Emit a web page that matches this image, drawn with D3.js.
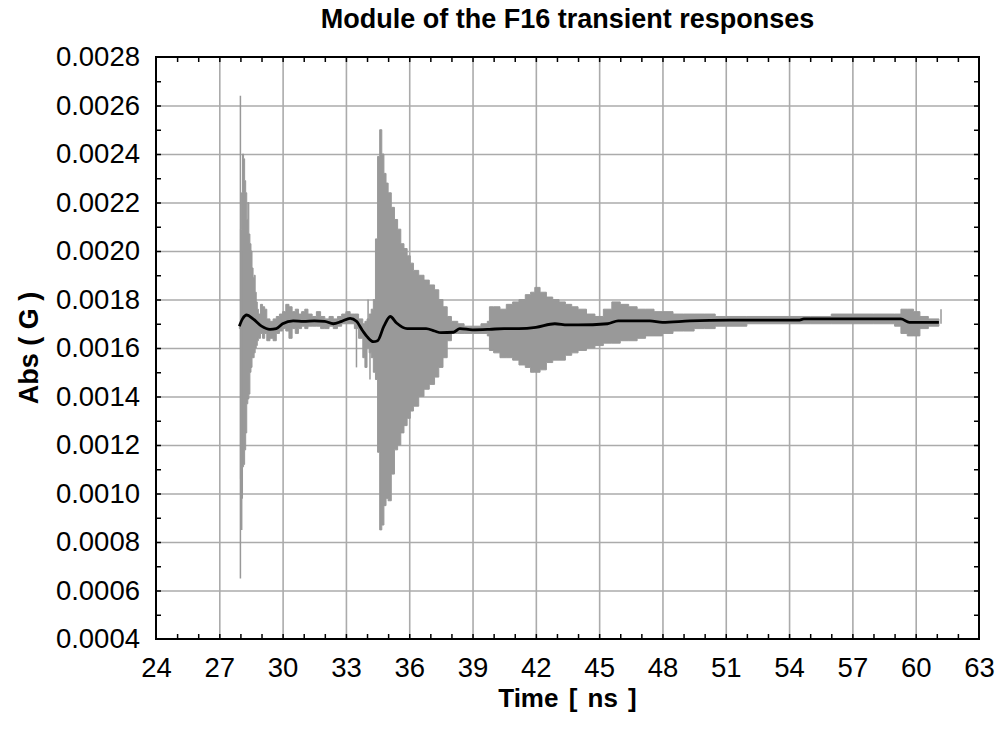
<!DOCTYPE html>
<html>
<head>
<meta charset="utf-8">
<script src="https://cdn.jsdelivr.net/npm/d3@7"></script>
<style>
  body { margin: 0; background: #fff; }
  svg { font-family: "Liberation Sans", Arial, sans-serif; }
  .tickLabel { font-size: 27.5px; fill: #000; }
</style>
</head>
<body>
<div id="chart"></div>
<script>
// x ticks (ns) and y ticks (G)
var xTicks = [24, 27, 30, 33, 36, 39, 42, 45, 48, 51, 54, 57, 60, 63];
var yTicks = [0.0004, 0.0006, 0.0008, 0.0010, 0.0012, 0.0014, 0.0016, 0.0018, 0.0020, 0.0022, 0.0024, 0.0026, 0.0028];

// envelope of the raw transient response (grey)
var sigTime = [27.95, 28.00, 28.05, 28.10, 28.15, 28.20, 28.25, 28.30, 28.35, 28.40, 28.45, 28.50, 28.55, 28.60, 28.65, 28.70, 28.75, 28.80, 28.85,
  28.95, 29.05, 29.15, 29.25, 29.40, 29.55, 29.70, 29.85, 30.00, 30.15, 30.30, 30.45, 30.60, 30.75, 30.90, 31.05, 31.20, 31.40, 31.60, 31.80,
  32.00, 32.20, 32.40, 32.60, 32.80, 33.00, 33.20, 33.40, 33.60, 33.80, 33.90, 34.00, 34.10, 34.20, 34.30, 34.40, 34.50, 34.60, 34.70, 34.80,
  34.90, 35.00, 35.15, 35.30, 35.45, 35.60, 35.75, 35.90, 36.05, 36.20, 36.45, 36.70, 36.95, 37.20, 37.40, 37.60, 37.80, 38.00, 38.30, 38.60,
  39.00, 39.40, 39.70, 39.80, 40.00, 40.30, 40.60, 40.90, 41.20, 41.50, 41.75, 41.95, 42.20, 42.50, 42.80, 43.10, 43.40, 43.70, 44.00, 44.40,
  44.80, 45.20, 45.60, 46.00, 46.40, 46.80, 47.20, 47.60, 48.00, 48.50, 49.00, 49.50, 50.00, 50.50, 51.00, 52.00, 53.00, 54.00, 55.00, 56.00,
  57.00, 58.00, 59.00, 59.30, 59.60, 59.90, 60.20, 60.60, 61.10];
var sigHigh = [0.00170, 0.00209, 0.00224, 0.00240, 0.00238, 0.00229, 0.00224, 0.00213, 0.00220, 0.00207, 0.00203, 0.00200, 0.00193, 0.00189, 0.00190, 0.00183, 0.00179, 0.00176, 0.00174,
  0.00178, 0.00177, 0.00176, 0.00172, 0.00171, 0.00172, 0.00173, 0.00174, 0.00175, 0.00178, 0.00177, 0.00175, 0.00176, 0.00174, 0.00175, 0.00176, 0.00174, 0.00173, 0.00175, 0.00173,
  0.00172, 0.00173, 0.00172, 0.00173, 0.00174, 0.00175, 0.00174, 0.00174, 0.00172, 0.00170, 0.00171, 0.00172, 0.00174, 0.00176, 0.00180, 0.00205, 0.00239, 0.00250, 0.00240, 0.00232,
  0.00228, 0.00224, 0.00218, 0.00213, 0.00209, 0.00203, 0.00201, 0.00198, 0.00195, 0.00192, 0.00190, 0.00188, 0.00186, 0.00184, 0.00180, 0.00177, 0.00173, 0.00171, 0.00170, 0.00169,
  0.00169, 0.00170, 0.00171, 0.00177, 0.00177, 0.00176, 0.00178, 0.00179, 0.00180, 0.00182, 0.00183, 0.00185, 0.00183, 0.00181, 0.00180, 0.00179, 0.00178, 0.00177, 0.00176, 0.00174,
  0.00173, 0.00176, 0.00179, 0.00178, 0.00177, 0.00176, 0.00176, 0.00175, 0.00175, 0.00174, 0.00174, 0.00174, 0.00174, 0.00173, 0.00173, 0.00173, 0.00173, 0.00173, 0.00173, 0.00174,
  0.00174, 0.00174, 0.00174, 0.00176, 0.00176, 0.00175, 0.00173, 0.00172, 0.00172];
var sigLow = [0.00168, 0.00106, 0.00098, 0.00111, 0.00112, 0.00118, 0.00125, 0.00137, 0.00139, 0.00141, 0.00150, 0.00152, 0.00156, 0.00156, 0.00158, 0.00160, 0.00161, 0.00163, 0.00164,
  0.00166, 0.00164, 0.00166, 0.00163, 0.00164, 0.00163, 0.00166, 0.00167, 0.00168, 0.00167, 0.00164, 0.00168, 0.00166, 0.00168, 0.00169, 0.00168, 0.00169, 0.00169, 0.00169, 0.00168,
  0.00168, 0.00169, 0.00168, 0.00169, 0.00170, 0.00170, 0.00170, 0.00168, 0.00164, 0.00156, 0.00152, 0.00160, 0.00158, 0.00156, 0.00150, 0.00147, 0.00117, 0.00085, 0.00087, 0.00095,
  0.00098, 0.00097, 0.00108, 0.00118, 0.00120, 0.00125, 0.00128, 0.00131, 0.00134, 0.00136, 0.00140, 0.00143, 0.00145, 0.00148, 0.00152, 0.00156, 0.00163, 0.00166, 0.00166, 0.00166,
  0.00166, 0.00166, 0.00165, 0.00159, 0.00158, 0.00156, 0.00156, 0.00155, 0.00153, 0.00152, 0.00150, 0.00150, 0.00151, 0.00154, 0.00155, 0.00155, 0.00157, 0.00158, 0.00159, 0.00160,
  0.00161, 0.00162, 0.00162, 0.00163, 0.00163, 0.00164, 0.00165, 0.00165, 0.00166, 0.00167, 0.00167, 0.00168, 0.00168, 0.00169, 0.00169, 0.00170, 0.00170, 0.00170, 0.00170, 0.00170,
  0.00170, 0.00170, 0.00169, 0.00166, 0.00165, 0.00165, 0.00168, 0.00169, 0.00169];

// isolated thin spikes of the raw signal: time, low, high
var spikeTime = [28.00, 28.06, 33.50, 34.05, 34.14, 61.20];
var spikeLow = [0.00065, 0.00085, 0.00152, 0.00165, 0.00147, 0.00170];
var spikeHigh = [0.00264, 0.00200, 0.00172, 0.00180, 0.00170, 0.00176];

// averaged response (black)
var meanTime = [27.95, 28.1, 28.3, 28.6, 29.0, 29.4, 29.7, 30.0, 30.5, 31.0, 31.5, 32.0, 32.4, 32.8, 33.2, 33.5, 33.8, 34.0, 34.3, 34.5,
  34.8, 35.1, 35.4, 35.9, 36.4, 36.8, 37.2, 37.5, 38.1, 38.4, 39.0, 39.8, 40.5, 41.2, 42.0, 42.9, 43.5, 44.0, 45.4, 45.9,
  46.8, 47.4, 48.0, 49.3, 51.2, 54.5, 54.7, 58.0, 59.3, 59.7, 61.1];
var meanValue = [0.00169, 0.00172, 0.001736, 0.00172, 0.00169, 0.001677, 0.00168, 0.00170, 0.001712, 0.00171, 0.001712, 0.00171, 0.00170, 0.00171, 0.001722, 0.00171, 0.00167, 0.001647, 0.001626, 0.00163,
  0.00169, 0.00173, 0.001703, 0.00168, 0.00168, 0.00168, 0.00167, 0.001663, 0.001665, 0.00168, 0.001675, 0.001677, 0.00168, 0.00168, 0.001685, 0.00170, 0.001695, 0.001695, 0.00170, 0.001712,
  0.001712, 0.001712, 0.001706, 0.001712, 0.001715, 0.001715, 0.00172, 0.00172, 0.00172, 0.001706, 0.001706];

var svgWidth = 1003, svgHeight = 737;
var margin = { top: 57, right: 24, bottom: 98, left: 156 };
var chartWidth = svgWidth - margin.left - margin.right;
var chartHeight = svgHeight - margin.top - margin.bottom;

var svg = d3.select("#chart").append("svg")
  .attr("width", svgWidth)
  .attr("height", svgHeight);

var chartGroup = svg.append("g")
  .attr("transform", `translate(${margin.left}, ${margin.top})`);

var xScale = d3.scaleLinear().domain([24, 63]).range([0, chartWidth]);
var yScale = d3.scaleLinear().domain([0.0004, 0.0028]).range([chartHeight, 0]);

// grid
chartGroup.append("g")
  .attr("transform", `translate(0, ${chartHeight})`)
  .call(d3.axisBottom(xScale).tickValues(xTicks.slice(1, -1)).tickSize(-chartHeight).tickFormat(""))
  .call(g => g.select(".domain").remove())
  .selectAll("line").attr("stroke", "#ababab").attr("stroke-width", 1.6);
chartGroup.append("g")
  .call(d3.axisLeft(yScale).tickValues(yTicks.slice(1, -1)).tickSize(-chartWidth).tickFormat(""))
  .call(g => g.select(".domain").remove())
  .selectAll("line").attr("stroke", "#ababab").attr("stroke-width", 1.6);

// raw signal envelope
var sigData = sigTime.map((t, i) => ({ t: t, hi: sigHigh[i], lo: sigLow[i] }));
chartGroup.append("path")
  .datum(sigData)
  .attr("fill", "#999999")
  .attr("stroke", "#999999")
  .attr("stroke-width", 1)
  .attr("d", d3.area()
    .x(d => xScale(d.t))
    .y0(d => yScale(d.lo))
    .y1(d => yScale(d.hi))
    .curve(d3.curveStepAfter));

chartGroup.selectAll(".spike")
  .data(spikeTime.map((t, i) => ({ t: t, lo: spikeLow[i], hi: spikeHigh[i] })))
  .enter().append("line")
  .attr("class", "spike")
  .attr("x1", d => xScale(d.t)).attr("x2", d => xScale(d.t))
  .attr("y1", d => yScale(d.lo)).attr("y2", d => yScale(d.hi))
  .attr("stroke", "#999999")
  .attr("stroke-width", 1.5);

// mean response
var meanData = meanTime.map((t, i) => ({ t: t, v: meanValue[i] }));
chartGroup.append("path")
  .datum(meanData)
  .attr("fill", "none")
  .attr("stroke", "#000")
  .attr("stroke-width", 2.8)
  .attr("stroke-linejoin", "round")
  .attr("d", d3.line().x(d => xScale(d.t)).y(d => yScale(d.v)).curve(d3.curveMonotoneX));

// minor + major inward ticks on all four sides
var xMinor = d3.range(25, 63, 1);
var yMinor = d3.range(5, 28, 1).map(d => d / 10000);
function styleTicks(g) {
  g.select(".domain").remove();
  g.selectAll("line").attr("stroke", "#000").attr("stroke-width", 1.5);
}
chartGroup.append("g").attr("transform", `translate(0, ${chartHeight})`)
  .call(d3.axisBottom(xScale).tickValues(xMinor).tickSize(-5).tickFormat("")).call(styleTicks);
chartGroup.append("g")
  .call(d3.axisTop(xScale).tickValues(xMinor).tickSize(-5).tickFormat("")).call(styleTicks);
chartGroup.append("g")
  .call(d3.axisLeft(yScale).tickValues(yMinor).tickSize(-5).tickFormat("")).call(styleTicks);
chartGroup.append("g").attr("transform", `translate(${chartWidth}, 0)`)
  .call(d3.axisRight(yScale).tickValues(yMinor).tickSize(-5).tickFormat("")).call(styleTicks);

// tick labels
var xAxis = chartGroup.append("g")
  .attr("transform", `translate(0, ${chartHeight})`)
  .call(d3.axisBottom(xScale).tickValues(xTicks).tickSize(0).tickPadding(18).tickFormat(d3.format("d")));
xAxis.select(".domain").remove();
xAxis.selectAll("text").attr("class", "tickLabel").attr("dy", "0.71em").attr("font-size", null).attr("font-family", null);

var yAxis = chartGroup.append("g")
  .call(d3.axisLeft(yScale).tickValues(yTicks).tickSize(0).tickPadding(16).tickFormat(d3.format(".4f")));
yAxis.select(".domain").remove();
yAxis.selectAll("text").attr("class", "tickLabel").attr("font-size", null).attr("font-family", null);

// frame
chartGroup.append("rect")
  .attr("width", chartWidth)
  .attr("height", chartHeight)
  .attr("fill", "none")
  .attr("stroke", "#000")
  .attr("stroke-width", 2);

// title and axis labels
svg.append("text")
  .attr("x", margin.left + chartWidth / 2)
  .attr("y", 28)
  .attr("text-anchor", "middle")
  .attr("font-weight", "bold")
  .attr("font-size", 27)
  .text("Module of the F16 transient responses");

svg.append("text")
  .attr("x", margin.left + chartWidth / 2)
  .attr("y", 707)
  .attr("text-anchor", "middle")
  .attr("font-weight", "bold")
  .attr("font-size", 26)
  .attr("word-spacing", 3)
  .attr("xml:space", "preserve")
  .text("Time [ ns ]");

svg.append("text")
  .attr("transform", `translate(38, ${margin.top + chartHeight / 2}) rotate(-90)`)
  .attr("text-anchor", "middle")
  .attr("font-weight", "bold")
  .attr("font-size", 27)
  .attr("xml:space", "preserve")
  .text("Abs ( G )");
</script>
</body>
</html>
